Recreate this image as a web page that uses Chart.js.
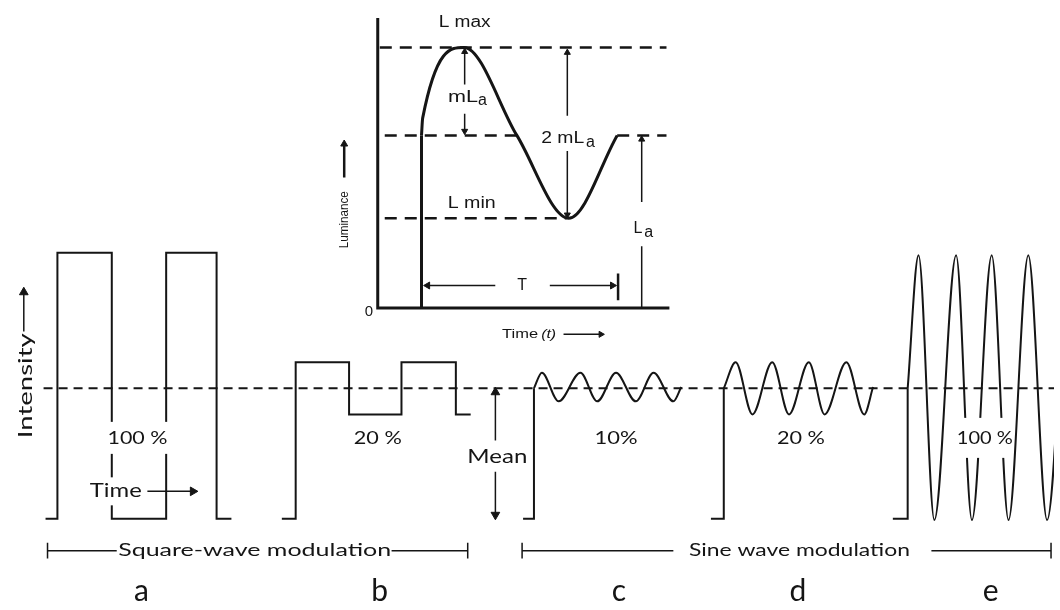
<!DOCTYPE html>
<html>
<head>
<meta charset="utf-8">
<script src="https://cdn.jsdelivr.net/npm/chart.js@4.4.1/dist/chart.umd.min.js"></script>
<style>
  html, body { margin: 0; padding: 0; background: #fff; }
  canvas { display: block; }
</style>
</head>
<body>
<canvas id="fig" width="1060" height="610"></canvas>
<script>
// ---- main panel: time (arbitrary units) vs intensity (% of mean) ----
const meanLineT = [38, 1060];
const meanLineI = [100, 100];

const squareA_t = [40, 52, 52, 107, 107, 162, 162, 213, 213, 228];
const squareA_i = [0, 0, 204, 204, 0, 0, 204, 204, 0, 0];
const squareB_t = [279, 293, 293, 347, 347, 400, 400, 455, 455, 470];
const squareB_i = [0, 0, 120, 120, 80, 80, 120, 120, 80, 80];

const stepC_t = [523, 534, 534];
const stepC_i = [0, 0, 100];
const sineC_t = [534, 542, 559, 581, 598, 617, 637, 655, 675, 683];
const sineC_i = [100, 112, 90, 112, 90, 112, 90, 112, 90, 101];

const stepD_t = [713, 726, 726];
const stepD_i = [0, 0, 100];
const sineD_t = [726, 738, 755, 775, 792, 812, 828, 850, 868, 877];
const sineD_i = [100, 120, 80, 120, 80, 120, 80, 120, 80, 101];

const stepE_t = [897, 912, 912];
const stepE_i = [0, 0, 100];
const sineE_t = [912, 923, 939, 961, 977, 997, 1014, 1034, 1053, 1072];
const sineE_i = [100, 202, -1, 202, -1, 202, -1, 202, -1, 202];

const panelLetters = ['a', 'b', 'c', 'd', 'e'];
const modulation = ['100 %', '20 %', '10%', '20 %', '100 %'];

// ---- inset: time t vs luminance (La = 100) ----
const insetAxisT = [0, 0, 100];
const insetAxisL = [168, 0, 0];
const lumRiseT = [15, 15];
const lumRiseL = [0, 100];
const lumWaveT = [15, 15.4, 29.6, 47.7, 65.5, 82.1];
const lumWaveL = [100, 110, 151, 100, 52, 100];
const lMaxT = [0.7, 99];
const lMaxL = [151, 151];
const laT1 = [2.4, 47.7];
const laT2 = [82.1, 99];
const laL = [100, 100];
const lMinT = [2.4, 64.7];
const lMinL = [52, 52];

// ---- layout (pixel origin + pixels per unit) ----
const W = 1060, H = 610;
const main = { x0: 0, px: 1, y0: 523, py: 1.33 };
const ins = { x0: 376, px: 2.95, y0: 308, py: 1.76 };
const INK = '#151515';
const mainFont = 'Lato, "DejaVu Sans", sans-serif';
const insFont = '"Liberation Sans", Arial, sans-serif';

function pts(ts, vs) { return ts.map((t, i) => ({ x: t, y: vs[i] })); }

function trace(ts, vs, o) {
  return Object.assign({
    data: pts(ts, vs), showLine: true, borderColor: INK, borderWidth: 2,
    pointRadius: 0, tension: 0, fill: false, borderCapStyle: 'butt', borderJoinStyle: 'miter'
  }, o || {});
}

// heads: rotation in degrees per point, null = no head
function arrow(ts, vs, heads, r, o) {
  return trace(ts, vs, Object.assign({
    borderWidth: 1.5,
    pointStyle: 'triangle',
    pointRadius: heads.map(h => h === null ? 0 : r),
    pointRotation: heads.map(h => h === null ? 0 : h),
    pointBackgroundColor: INK, pointBorderColor: INK, pointBorderWidth: 1
  }, o || {}));
}

const onInset = { xAxisID: 'xi', yAxisID: 'yi' };
const sine = { cubicInterpolationMode: 'monotone' };

const datasets = [
  trace(meanLineT, meanLineI, { borderDash: [9, 6] }),
  trace(squareA_t, squareA_i),
  trace(squareB_t, squareB_i),
  trace(stepC_t, stepC_i),
  trace(sineC_t, sineC_i, sine),
  trace(stepD_t, stepD_i),
  trace(sineD_t, sineD_i, sine),
  trace(stepE_t, stepE_i),
  trace(sineE_t, sineE_i, sine),
  // main arrows
  arrow([18, 18], [143.6, 173.7], [null, 0], 5),
  arrow([143, 189], [21, 21], [null, 90], 5),
  arrow([495, 495], [60, 97], [null, 0], 5),
  arrow([495, 495], [36, 3], [null, 180], 5),
  // brackets
  trace([42, 112], [-24.5, -24.5], { borderWidth: 1.5 }),
  trace([390, 467], [-24.5, -24.5], { borderWidth: 1.5 }),
  trace([42, 42], [-18.5, -30.5], { borderWidth: 1.5 }),
  trace([467, 467], [-18.5, -30.5], { borderWidth: 1.5 }),
  trace([522, 675], [-24.5, -24.5], { borderWidth: 1.5 }),
  trace([936, 1057], [-24.5, -24.5], { borderWidth: 1.5 }),
  trace([522, 522], [-18.5, -30.5], { borderWidth: 1.5 }),
  trace([1057, 1057], [-18.5, -30.5], { borderWidth: 1.5 }),
  // inset
  trace(insetAxisT, insetAxisL, Object.assign({ borderWidth: 3 }, onInset)),
  trace(lMaxT, lMaxL, Object.assign({ borderWidth: 2.5, borderDash: [12, 8] }, onInset)),
  trace(laT1, laL, Object.assign({ borderWidth: 2.5, borderDash: [12, 8] }, onInset)),
  trace(laT2, laL, Object.assign({ borderWidth: 2.5, borderDash: [12, 8] }, onInset)),
  trace(lMinT, lMinL, Object.assign({ borderWidth: 2.5, borderDash: [12, 8] }, onInset)),
  trace(lumRiseT, lumRiseL, Object.assign({ borderWidth: 3 }, onInset)),
  trace(lumWaveT, lumWaveL, Object.assign({ borderWidth: 3 }, sine, onInset)),
  // inset arrows
  arrow([29.8, 29.8], [148.5, 129.5], [0, null], 3.5, onInset),
  arrow([29.8, 29.8], [112.5, 102.5], [null, 180], 3.5, onInset),
  arrow([65, 65], [148, 111.4], [0, null], 3.5, onInset),
  arrow([65, 65], [90.9, 54], [null, 180], 3.5, onInset),
  arrow([90.5, 90.5], [97.7, 61.4], [0, null], 3.5, onInset),
  trace([90.5, 90.5], [35.8, 0.6], Object.assign({ borderWidth: 1.5 }, onInset)),
  arrow([17.1, 40.3], [13, 13], [270, null], 4, onInset),
  arrow([59, 80.5], [13, 13], [null, 90], 4, onInset),
  trace([82.4, 82.4], [19.9, 4.5], Object.assign({ borderWidth: 2.5 }, onInset)),
  arrow([-11.5, -11.5], [75.6, 95], [null, 0], 4, Object.assign({ borderWidth: 2.5 }, onInset)),
  arrow([63.7, 76.5], [-15.3, -15.3], [null, 90], 3.5, onInset)
];

// text annotations (position in the panel's own units)
const letterX = [137, 378, 620, 801, 996];
const modX = [133, 376, 617, 804, 990];
const modW = [60, 48, 43, 48, 56];
const modBg = [[2, 16], null, null, null, [0, 20]];

const annotations = [];
panelLetters.forEach((l, i) => annotations.push({ t: l, x: letterX[i], y: -55.6, size: 30, font: mainFont }));
modulation.forEach((m, i) => annotations.push({ t: m, x: modX[i], y: 62, size: 18, w: modW[i], font: mainFont, bg: modBg[i] }));
annotations.push(
  { t: 'Time', x: 111, y: 21, size: 19, w: 52, font: mainFont, bg: [2, 14] },
  { t: 'Mean', x: 497, y: 47.4, size: 19, w: 60, font: mainFont },
  { t: 'Intensity', x: 20, y: 102, size: 19, w: 105, rot: -90, font: mainFont },
  { t: 'Square-wave modulation', x: 251.5, y: -24.5, size: 18, w: 273, font: mainFont },
  { t: 'Sine wave modulation', x: 802.5, y: -24.5, size: 18, w: 221, font: mainFont },
  // inset
  { ins: true, t: 'L max', x: 29.8, y: 165.3, size: 16, w: 52, font: insFont },
  { ins: true, t: 'L min', x: 32.2, y: 60.2, size: 16, w: 48, font: insFont },
  { ins: true, t: 'mL', x: 29.2, y: 122.2, size: 16, w: 30, font: insFont },
  { ins: true, t: 'a', x: 35.9, y: 119.9, size: 16, font: insFont },
  { ins: true, t: '2 mL', x: 63.4, y: 98.3, size: 16, w: 43, font: insFont },
  { ins: true, t: 'a', x: 72.9, y: 96, size: 16, font: insFont },
  { ins: true, t: 'L', x: 89.2, y: 46, size: 16, font: insFont },
  { ins: true, t: 'a', x: 92.9, y: 43.7, size: 16, font: insFont },
  { ins: true, t: 'T', x: 49.5, y: 13.1, size: 16, font: insFont },
  { ins: true, t: '0', x: -3.05, y: -2.3, size: 15, font: insFont },
  { ins: true, t: 'Luminance', x: -11.5, y: 51.1, size: 12, w: 57, rot: -90, font: insFont },
  { ins: true, t: 'Time', x: 48.8, y: -15.3, size: 13, w: 36, font: insFont },
  { ins: true, t: '(t)', x: 58.6, y: -15.3, size: 13, w: 15, font: insFont, style: 'italic' }
);

const textPlugin = {
  id: 'diagramText',
  afterDatasetsDraw(chart) {
    const ctx = chart.ctx;
    annotations.forEach(a => {
      const xs = chart.scales[a.ins ? 'xi' : 'x'];
      const ys = chart.scales[a.ins ? 'yi' : 'y'];
      const px = xs.getPixelForValue(a.x), py = ys.getPixelForValue(a.y);
      ctx.save();
      ctx.font = `${a.style || 'normal'} ${a.weight || 400} ${a.size}px ${a.font}`;
      ctx.translate(px, py);
      if (a.rot) ctx.rotate(a.rot * Math.PI / 180);
      const m = ctx.measureText(a.t).width;
      const sx = a.w ? a.w / m : 1;
      if (a.bg) {
        ctx.fillStyle = '#fff';
        ctx.fillRect(-m * sx / 2 - a.bg[0], -a.bg[1], m * sx + 2 * a.bg[0], 2 * a.bg[1]);
      }
      ctx.scale(sx, 1);
      ctx.fillStyle = INK;
      ctx.textAlign = 'center';
      ctx.textBaseline = 'middle';
      ctx.fillText(a.t, 0, 0);
      ctx.restore();
    });
  }
};

function range(l) {
  return {
    xmin: -l.x0 / l.px, xmax: (W - l.x0) / l.px,
    ymin: (l.y0 - H) / l.py, ymax: l.y0 / l.py
  };
}
const rm = range(main), ri = range(ins);

new Chart(document.getElementById('fig'), {
  type: 'scatter',
  data: { datasets },
  options: {
    responsive: false,
    animation: false,
    layout: { padding: 0 },
    plugins: { legend: { display: false }, tooltip: { enabled: false } },
    scales: {
      x: { type: 'linear', display: false, min: rm.xmin, max: rm.xmax },
      y: { type: 'linear', display: false, min: rm.ymin, max: rm.ymax },
      xi: { type: 'linear', axis: 'x', display: false, min: ri.xmin, max: ri.xmax },
      yi: { type: 'linear', axis: 'y', display: false, min: ri.ymin, max: ri.ymax }
    }
  },
  plugins: [textPlugin]
});
</script>
</body>
</html>
